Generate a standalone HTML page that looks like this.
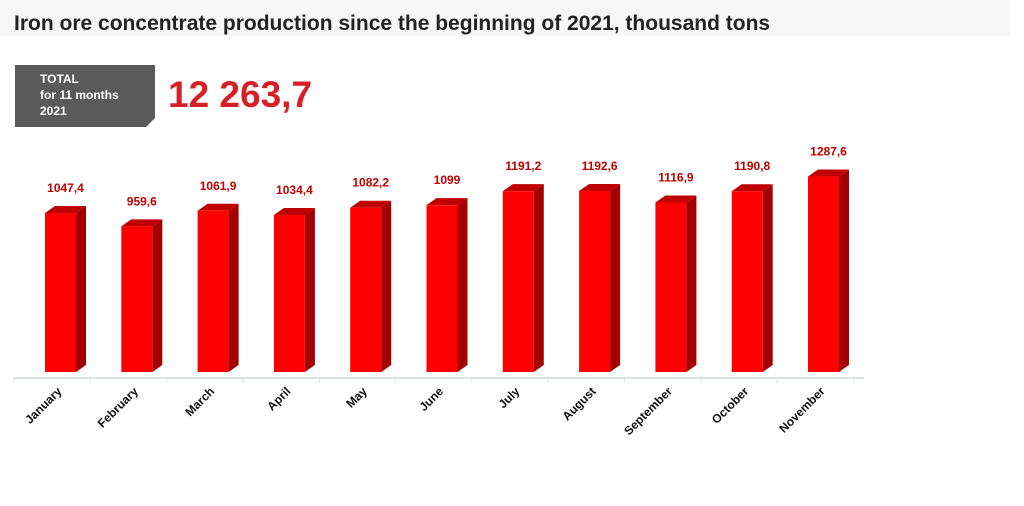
<!DOCTYPE html>
<html><head><meta charset="utf-8"><style>
body{margin:0;background:#fff;width:1024px;height:501px;overflow:hidden;font-family:"Liberation Sans",sans-serif}
</style></head><body>
<svg width="1024" height="501">
<rect x="0" y="0" width="1010" height="36" fill="#f7f7f7"/>
<text x="14" y="30" font-size="21" font-weight="bold" fill="#222">Iron ore concentrate production since the beginning of 2021, thousand tons</text>
<polygon points="15,65 155,65 155,118 146,127 15,127" fill="#5a5a5a"/>
<text x="40" y="83" font-size="12" font-weight="bold" fill="#fff">TOTAL</text>
<text x="40" y="99" font-size="12" font-weight="bold" fill="#fff">for 11 months</text>
<text x="40" y="115" font-size="12" font-weight="bold" fill="#fff">2021</text>
<text x="168" y="107" font-size="37" font-weight="bold" fill="#d71f27">12 263,7</text>
<g id="plot"></g>
</svg>
<script>
const categories=["January","February","March","April","May","June","July","August","September","October","November"];
const values=[1047.4,959.6,1061.9,1034.4,1082.2,1099,1191.2,1192.6,1116.9,1190.8,1287.6];
const labels=["1047,4","959,6","1061,9","1034,4","1082,2","1099","1191,2","1192,6","1116,9","1190,8","1287,6"];
const NS="http://www.w3.org/2000/svg";
const g=document.getElementById('plot');
const x0=14,step=76.3,baseY=372,scale=0.1518,bw=31,dx=10,dy=7;
const xs=i=>x0+i*step; const ys=v=>baseY-v*scale;
function mk(t,a,p){const e=document.createElementNS(NS,t);for(const k in a)e.setAttribute(k,a[k]);(p||g).appendChild(e);return e;}
let ax=mk('line',{x1:x0,y1:378,x2:864,y2:378,stroke:'#dde0e6','stroke-width':2});


for(let i=0;i<=categories.length;i++){let t=mk('line',{x1:xs(i),y1:378,x2:xs(i),y2:383,stroke:'#dde0e6','stroke-width':1});

}
values.forEach((v,i)=>{
 const L=xs(i)+31,R=L+bw,T=ys(v);
 const bar=mk('g',{});
 
 
 mk('polygon',{points:`${R},${T} ${R+dx},${T-dy} ${R+dx},${baseY-dy} ${R},${baseY}`,fill:'#a30000'},bar);
 mk('polygon',{points:`${L},${T} ${L+dx},${T-dy} ${R+dx},${T-dy} ${R},${T}`,fill:'#c00000'},bar);
 mk('rect',{x:L,y:T,width:bw,height:baseY-T,fill:'#ff0000'},bar);
 const vl=mk('text',{x:L+bw/2+5,y:T-21,'font-size':12,'font-weight':'bold',fill:'#c00000','text-anchor':'middle'});
 vl.textContent=labels[i];
 
 
 const cx=L+bw/2+2,cy=392;
 const ml=mk('text',{x:cx,y:cy,'font-size':12,'font-weight':'bold',fill:'#111','text-anchor':'end',transform:`rotate(-45 ${cx} ${cy})`});
 ml.textContent=categories[i];
 
 
});
</script>
</body></html>
